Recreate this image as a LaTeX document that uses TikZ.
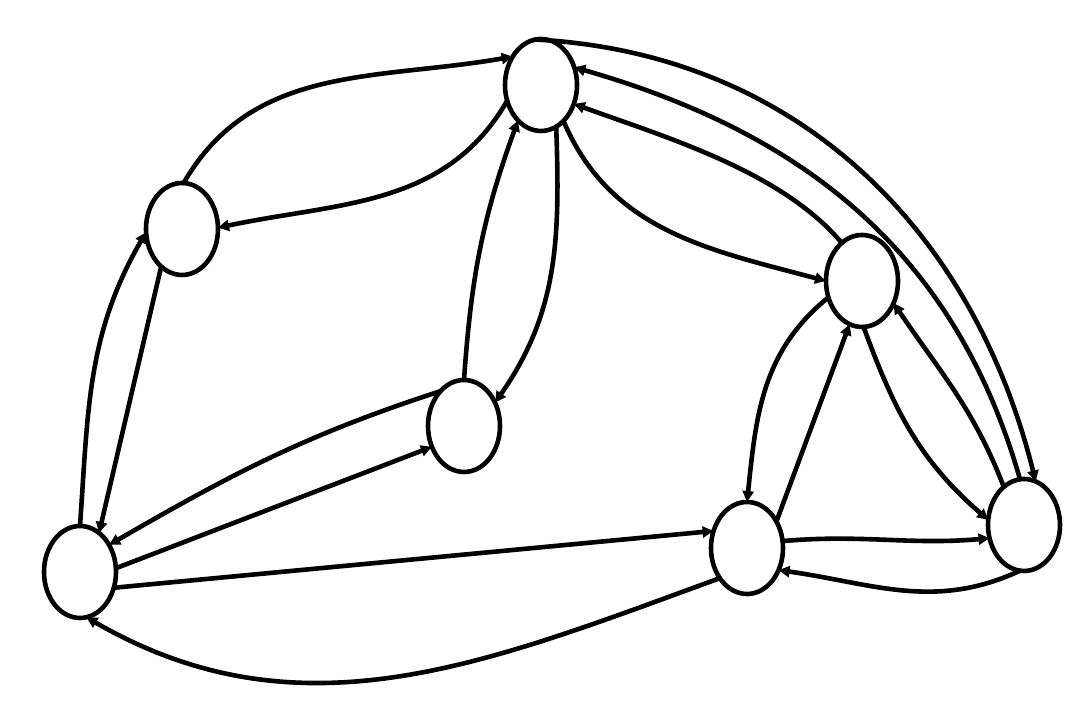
\documentclass[tikz,border=0pt]{standalone}
\usetikzlibrary{arrows.meta}
\usetikzlibrary{shapes.geometric}

\begin{document}
\begin{tikzpicture}[x=0.5pt, y=0.5pt, line width=2.3pt, line cap=round,
    every node/.style={ellipse, draw, inner sep=0pt, outer sep=0pt, minimum width=36pt, minimum height=46pt},
    arr/.style={-{Triangle[length=5.5pt,width=5.5pt]}}]
      \useasboundingbox (0,0) rectangle (1090,726);

      \draw (541,641) node (n1) {};
      \draw (182,497) node (n2) {};
      \draw (464,300) node (n3) {};
      \draw (862,445) node (n4) {};
      \draw (80,154) node (n5) {};
      \draw (747,178) node (n6) {};
      \draw (1024,201) node (n7) {};

      \draw[arr] (n2.88) to[out=60, in=190] (n1.135);
      \draw[arr] (n1.205) to[out=240, in=12] (n2.2);

      \draw[arr] (n5.90) to[out=86, in=240] (n2.185);
      \draw[arr] (n2.241) -- (n5.64);

      \draw[arr] (n3.124) to[out=198, in=30] (n5.43);
      \draw[arr] (n5.6) -- (n3.213);

      \draw[arr] (n3.90) to[out=86, in=250] (n1.237);
      \draw[arr] (n1.290) to[out=272, in=55] (n3.37);

      \draw[arr] (n1.302) to[out=293, in=165] (n4.180);
      \draw[arr] (n4.118) to[out=130, in=340, looseness=0.8] (n1.330);

      \draw[arr] (n1.97) to[out=-3, in=104] (n7.75);
      \draw[arr] (n7.95) to[out=106, in=344] (n1.28);

      \draw[arr] (n4.206) to[out=219, in=84] (n6.90);
      \draw[arr] (n6.42) -- (n4.254);

      \draw[arr] (n4.272) to[out=290, in=139] (n7.172);
      \draw[arr] (n7.118) to[out=111, in=304] (n4.325);

      \draw[arr] (n6.11) to[out=5, in=185] (n7.201);
      \draw[arr] (n7.265) to[out=205, in=-8] (n6.325);

      \draw[arr] (n5.335) -- (n6.153);
      \draw[arr] (n6.228) to[out=200, in=330] (n5.278);
\end{tikzpicture}
\end{document}
